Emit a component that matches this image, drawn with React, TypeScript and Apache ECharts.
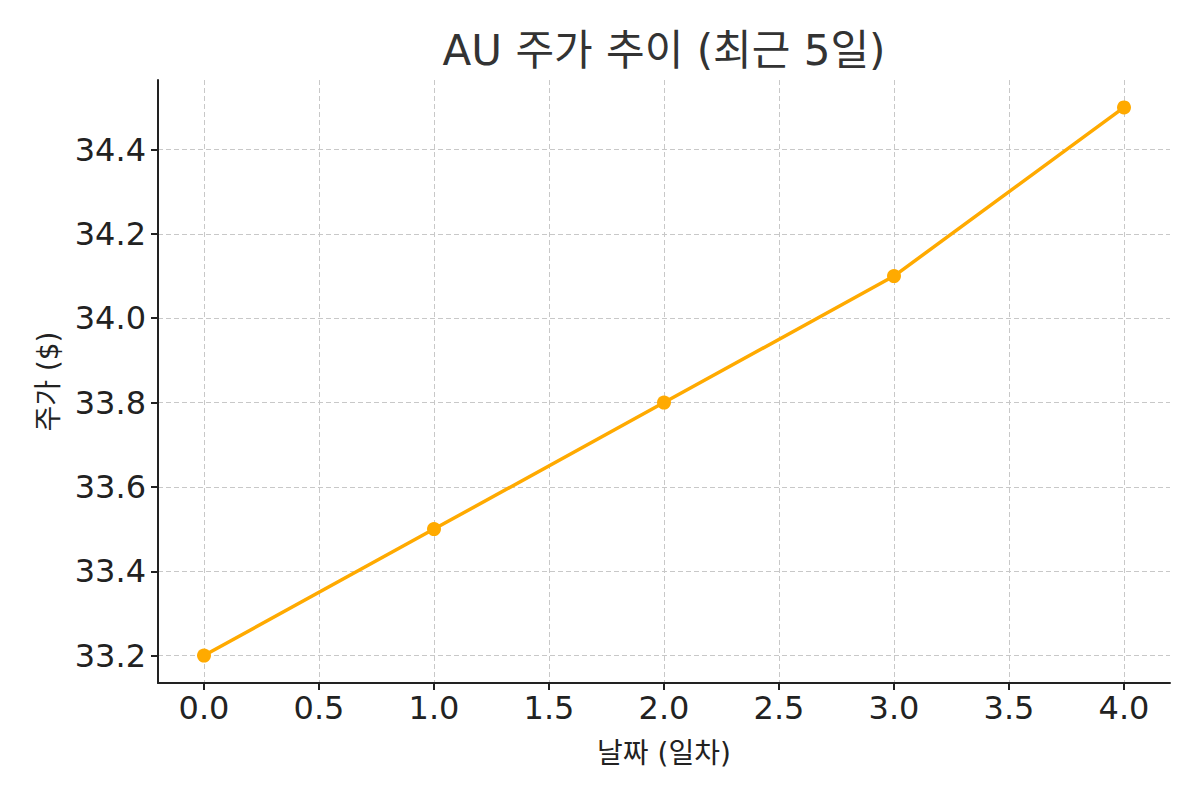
import React, { useEffect, useRef } from "react";
import * as echarts from "echarts";

const days = [0, 1, 2, 3, 4];
const prices = [33.2, 33.5, 33.8, 34.1, 34.5];
const xTicks = [0, 0.5, 1, 1.5, 2, 2.5, 3, 3.5, 4];
const yTicks = [33.2, 33.4, 33.6, 33.8, 34.0, 34.2, 34.4];
const titleText = "AU 주가 추이 (최근 5일)";
const xName = "날짜 (일차)";
const yName = "주가 ($)";

const FONT = "DejaVu Sans, Noto Sans CJK KR, sans-serif";

export default function App() {
  const ref = useRef<HTMLDivElement>(null);
  useEffect(() => {
    document.body.style.margin = "0";
    const chart = echarts.init(ref.current!, null, { renderer: "svg" });
    const gridLine = { show: true, lineStyle: { color: "#c8c8c8", type: [5, 3] as any, width: 1 } };
    chart.setOption({
      animation: false,
      backgroundColor: "#ffffff",
      graphic: [
        {
          type: "text",
          x: 664,
          y: 50,
          style: {
            text: titleText,
            textAlign: "center",
            textVerticalAlign: "middle",
            fontFamily: FONT,
            fontSize: 42,
            fill: "#333333",
          },
        },
      ],
      grid: { left: 158, right: 30, top: 80, bottom: 117 },
      xAxis: {
        type: "value",
        min: -0.2,
        max: 4.2,
        name: xName,
        nameLocation: "middle",
        nameGap: 56,
        nameTextStyle: { fontFamily: FONT, fontSize: 28, color: "#222" },
        axisLine: { show: true, onZero: false, lineStyle: { color: "#222", width: 2 } },
        axisTick: { show: true, length: 7, lineStyle: { color: "#222", width: 2 }, customValues: xTicks },
        axisLabel: {
          customValues: xTicks,
          formatter: (v: number) => v.toFixed(1),
          fontFamily: FONT,
          fontSize: 32,
          color: "#222",
          margin: 9,
        },
        splitLine: gridLine,
      },
      yAxis: {
        type: "value",
        min: 33.135,
        max: 34.565,
        name: yName,
        nameLocation: "middle",
        nameGap: 96,
        nameRotate: 90,
        nameTextStyle: { fontFamily: FONT, fontSize: 28, color: "#222" },
        axisLine: { show: true, onZero: false, lineStyle: { color: "#222", width: 2 } },
        axisTick: { show: true, length: 7, lineStyle: { color: "#222", width: 2 }, customValues: yTicks },
        axisLabel: {
          customValues: yTicks,
          formatter: (v: number) => v.toFixed(1),
          fontFamily: FONT,
          fontSize: 32,
          color: "#222",
          margin: 12,
        },
        splitLine: gridLine,
      },
      series: [
        {
          type: "line",
          data: days.map((d, i) => [d, prices[i]]),
          symbol: "circle",
          symbolSize: 14,
          lineStyle: { color: "#FFAA00", width: 3.5 },
          itemStyle: { color: "#FFAA00" },
        },
      ],
    });
    return () => chart.dispose();
  }, []);
  return <div ref={ref} style={{ width: 1200, height: 800 }} />;
}
